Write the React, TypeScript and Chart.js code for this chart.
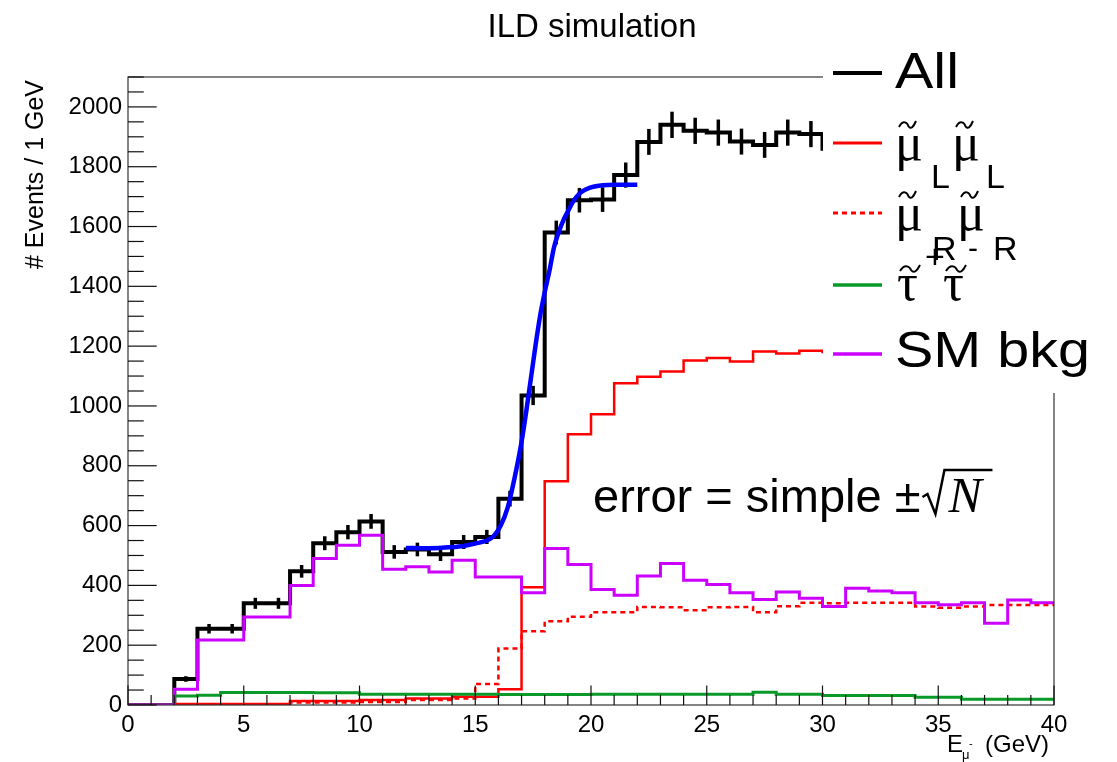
import React, { useEffect, useRef } from "react";
import { Chart, registerables } from "chart.js";

Chart.register(...registerables);

// ---- data ----
const binEdges = [
  0, 1, 2, 3, 4, 5, 6, 7, 8, 9, 10, 11, 12, 13, 14, 15, 16, 17, 18, 19, 20,
  21, 22, 23, 24, 25, 26, 27, 28, 29, 30, 31, 32, 33, 34, 35, 36, 37, 38, 39, 40,
];

const allEvents = [
  0, 0, 87, 255, 255, 340, 340, 447, 541, 578, 614, 512, 520, 504, 545, 562, 690,
  1035, 1580, 1688, 1690, 1772, 1883, 1940, 1920, 1914, 1884, 1873, 1914, 1909,
  1860, 1890, 1880, 1870, 1880, 1860, 1870, 1850, 1870, 1860,
];

const smuonL = [
  0, 0, 3, 3, 3, 3, 3, 13, 13, 13, 17, 17, 22, 22, 28, 28, 53, 394, 748, 905,
  972, 1076, 1098, 1115, 1152, 1160, 1149, 1182, 1175, 1185, 1180, 1185, 1190,
  1188, 1192, 1190, 1195, 1190, 1193, 1195,
];

const smuonR = [
  0, 0, 1, 1, 1, 1, 1, 8, 8, 8, 10, 10, 17, 17, 22, 70, 189, 247, 280, 295, 310,
  310, 328, 327, 317, 327, 328, 310, 330, 342, 340, 342, 342, 342, 329, 325, 329,
  334, 334, 334,
];

const stau = [
  0, 0, 30, 33, 42, 42, 42, 42, 41, 41, 36, 36, 36, 36, 36, 36, 35, 35, 35, 35,
  36, 36, 36, 36, 36, 36, 36, 43, 36, 36, 32, 32, 32, 32, 26, 26, 19, 19, 19, 19,
];

const smBkg = [
  0, 0, 53, 217, 217, 294, 294, 400, 490, 534, 568, 454, 462, 445, 484, 428, 428,
  375, 523, 470, 386, 367, 431, 473, 417, 403, 375, 353, 378, 357, 329, 390, 381,
  375, 342, 335, 342, 273, 351, 342,
];

const fitX = [
  12, 13, 14, 14.5, 15, 15.5, 15.8, 16.1, 16.4, 16.7, 17.0, 17.2, 17.4, 17.6,
  17.8, 18.0, 18.2, 18.4, 18.6, 18.8, 19.0, 19.2, 19.5, 19.8, 20.1, 20.5, 21, 22,
];
const fitY = [
  525, 524, 528, 532, 540, 550, 565, 600, 660, 760, 880, 980, 1090, 1200, 1300,
  1380, 1450, 1530, 1580, 1620, 1650, 1680, 1710, 1725, 1733, 1738, 1740, 1740,
];

const xTicks = [0, 5, 10, 15, 20, 25, 30, 35, 40];
const yTicks = [0, 200, 400, 600, 800, 1000, 1200, 1400, 1600, 1800, 2000];

const SANS = "'Liberation Sans', Arial, Helvetica, sans-serif";
const SERIF = "'Liberation Serif', 'Times New Roman', serif";

function histPoints(values: number[]) {
  const pts = values.map((v, i) => ({ x: binEdges[i], y: v }));
  pts.push({ x: binEdges[values.length], y: values[values.length - 1] });
  return pts;
}

function drawTilde(ctx: CanvasRenderingContext2D, x: number, y: number, w: number) {
  ctx.save();
  ctx.beginPath();
  ctx.lineWidth = 2;
  ctx.strokeStyle = "#000";
  ctx.moveTo(x, y + 3);
  ctx.bezierCurveTo(x + w * 0.25, y - 5, x + w * 0.5, y - 1, x + w * 0.55, y + 2);
  ctx.bezierCurveTo(x + w * 0.7, y + 6, x + w * 0.85, y + 3, x + w, y - 3);
  ctx.stroke();
  ctx.restore();
}

function txt(
  ctx: CanvasRenderingContext2D,
  s: string,
  x: number,
  y: number,
  font: string,
  sx = 1
) {
  ctx.save();
  ctx.font = font;
  ctx.fillStyle = "#000";
  ctx.textAlign = "left";
  ctx.textBaseline = "alphabetic";
  ctx.translate(x, y);
  ctx.scale(sx, 1);
  ctx.fillText(s, 0, 0);
  ctx.restore();
}

const decorPlugin = {
  id: "rootDecor",
  afterDatasetDraw(chart: any, args: any) {
    if (args.index !== 5) return;
    const ctx: CanvasRenderingContext2D = chart.ctx;
    const xs = chart.scales.x;
    const ys = chart.scales.y;
    const area = chart.chartArea;
    ctx.save();
    ctx.beginPath();
    ctx.rect(area.left, area.top, area.right - area.left, area.bottom - area.top);
    ctx.clip();
    ctx.strokeStyle = "#000";
    ctx.lineWidth = 3.5;
    allEvents.forEach((v, i) => {
      if (v <= 0) return;
      const e = Math.sqrt(v);
      const cx = xs.getPixelForValue((binEdges[i] + binEdges[i + 1]) / 2);
      ctx.beginPath();
      ctx.moveTo(cx, ys.getPixelForValue(v - e));
      ctx.lineTo(cx, ys.getPixelForValue(v + e));
      ctx.stroke();
    });
    ctx.restore();
  },
  afterDraw(chart: any) {
    const ctx: CanvasRenderingContext2D = chart.ctx;
    const xs = chart.scales.x;
    const ys = chart.scales.y;
    const a = chart.chartArea;
    const W = chart.width;

    // frame
    ctx.save();
    ctx.strokeStyle = "#333";
    ctx.lineWidth = 1.2;
    ctx.strokeRect(a.left, a.top, a.right - a.left, a.bottom - a.top);

    // ticks
    ctx.strokeStyle = "#111";
    ctx.lineWidth = 1.2;
    const plotW = a.right - a.left;
    const plotH = a.bottom - a.top;
    for (let v = 0; v <= 2100; v += 50) {
      const py = ys.getPixelForValue(v);
      const len = v % 200 === 0 ? 0.031 * plotW : 0.017 * plotW;
      ctx.beginPath();
      ctx.moveTo(a.left, py);
      ctx.lineTo(a.left + len, py);
      ctx.stroke();
    }
    for (let v = 0; v <= 40; v += 1) {
      const px = xs.getPixelForValue(v);
      const len = v % 5 === 0 ? 0.031 * plotH : 0.016 * plotH;
      ctx.beginPath();
      ctx.moveTo(px, a.bottom);
      ctx.lineTo(px, a.bottom - len);
      ctx.stroke();
    }
    ctx.restore();

    // legend box
    const lx = 823;
    ctx.save();
    ctx.fillStyle = "#fff";
    ctx.fillRect(lx, 38, W - lx, 393 - 38);
    const lineL = 833;
    const lineR = 882;
    const rows = [
      { y: 73, color: "#000", w: 4, dash: [] as number[] },
      { y: 143, color: "#ff0000", w: 3, dash: [] as number[] },
      { y: 213, color: "#ff0000", w: 3, dash: [5, 4] },
      { y: 285, color: "#0a9a2a", w: 3.5, dash: [] as number[] },
      { y: 354, color: "#cc00ff", w: 3.5, dash: [] as number[] },
    ];
    rows.forEach((r) => {
      ctx.beginPath();
      ctx.strokeStyle = r.color;
      ctx.lineWidth = r.w;
      ctx.setLineDash(r.dash);
      ctx.moveTo(lineL, r.y);
      ctx.lineTo(lineR, r.y);
      ctx.stroke();
    });
    ctx.setLineDash([]);
    ctx.restore();

    const big = `50px ${SANS}`;
    const greek = `52px ${SERIF}`;
    const sub = `34px ${SANS}`;
    txt(ctx, "All", 895, 88, big, 1.15);
    // row 2
    txt(ctx, "\u03bc", 895, 160, greek);
    drawTilde(ctx, 899, 124, 17);
    txt(ctx, "L", 931, 188, sub);
    txt(ctx, "\u03bc", 952, 160, greek);
    drawTilde(ctx, 956, 124, 17);
    txt(ctx, "L", 986, 188, sub);
    // row 3
    txt(ctx, "\u03bc", 895, 230, greek);
    drawTilde(ctx, 899, 194, 17);
    txt(ctx, "R", 932, 260, sub);
    txt(ctx, "\u03bc", 957, 230, greek);
    drawTilde(ctx, 961, 194, 17);
    txt(ctx, "R", 993, 260, sub);
    // row 4
    txt(ctx, "\u03c4", 897, 300, greek);
    drawTilde(ctx, 900, 268, 20);
    txt(ctx, "+", 925, 268, `34px ${SANS}`);
    txt(ctx, "\u03c4", 943, 300, greek);
    drawTilde(ctx, 946, 268, 20);
    txt(ctx, "-", 968, 258, `30px ${SANS}`);
    // row 5
    txt(ctx, "SM bkg", 895, 367, big, 1.15);

    // annotation
    ctx.save();
    ctx.font = `47px ${SANS}`;
    const s1 = "error = simple ";
    const w1 = ctx.measureText(s1).width;
    const wpm = ctx.measureText("\u00b1").width;
    ctx.restore();
    txt(ctx, s1, 593, 512, `47px ${SANS}`);
    const pmX = 593 + w1;
    txt(ctx, "\u00b1", pmX, 512, `47px ${SANS}`);
    const rx = pmX + wpm + 2;
    ctx.save();
    ctx.strokeStyle = "#000";
    ctx.lineWidth = 2.5;
    ctx.lineJoin = "miter";
    ctx.beginPath();
    ctx.moveTo(rx, 497);
    ctx.lineTo(rx + 5, 494);
    ctx.lineTo(rx + 13, 514);
    ctx.lineTo(rx + 22, 470);
    ctx.lineTo(rx + 70, 470);
    ctx.stroke();
    ctx.restore();
    txt(ctx, "N", rx + 26, 512, `italic 50px ${SERIF}`);

    // title
    ctx.save();
    ctx.font = `33px ${SANS}`;
    ctx.fillStyle = "#000";
    ctx.textAlign = "center";
    ctx.fillText("ILD simulation", 592, 37);
    ctx.restore();

    // y axis title
    ctx.save();
    ctx.font = `25px ${SANS}`;
    ctx.fillStyle = "#000";
    ctx.translate(43, 80);
    ctx.rotate(-Math.PI / 2);
    ctx.textAlign = "right";
    ctx.fillText("# Events / 1 GeV", 0, 0);
    ctx.restore();

    // x axis title
    txt(ctx, "E", 947, 752, `24px ${SANS}`);
    txt(ctx, "\u03bc", 962, 759, `13px ${SANS}`);
    txt(ctx, "-", 969, 747, `11px ${SANS}`);
    txt(ctx, "(GeV)", 985, 752, `24px ${SANS}`);
  },
};

export default function App() {
  const ref = useRef<HTMLCanvasElement | null>(null);

  useEffect(() => {
    if (!ref.current) return;
    const chart = new Chart(ref.current, {
      type: "line",
      data: {
        datasets: [
          {
            label: "fit",
            data: fitX.map((x, i) => ({ x, y: fitY[i] })),
            borderColor: "#0000ff",
            borderWidth: 4.5,
            pointRadius: 0,
            cubicInterpolationMode: "monotone",
            fill: false,
          },
          {
            label: "SM bkg",
            data: histPoints(smBkg),
            borderColor: "#cc00ff",
            borderWidth: 3,
            pointRadius: 0,
            stepped: true,
            fill: false,
          },
          {
            label: "stau",
            data: histPoints(stau),
            borderColor: "#0a9a2a",
            borderWidth: 3,
            pointRadius: 0,
            stepped: true,
            fill: false,
          },
          {
            label: "smuR",
            data: histPoints(smuonR),
            borderColor: "#ff0000",
            borderWidth: 2.5,
            borderDash: [5, 4],
            pointRadius: 0,
            stepped: true,
            fill: false,
          },
          {
            label: "smuL",
            data: histPoints(smuonL),
            borderColor: "#ff0000",
            borderWidth: 2.5,
            pointRadius: 0,
            stepped: true,
            fill: false,
          },
          {
            label: "All",
            data: histPoints(allEvents),
            borderColor: "#000000",
            borderWidth: 4,
            pointRadius: 0,
            stepped: true,
            fill: false,
          },
        ],
      },
      options: {
        animation: false,
        responsive: false,
        devicePixelRatio: 1,
        layout: { padding: { left: 0, right: 63, top: 77, bottom: 0 } },
        plugins: {
          legend: { display: false },
          tooltip: { enabled: false },
          title: { display: false },
        },
        scales: {
          x: {
            type: "linear",
            min: 0,
            max: 40,
            afterFit: (s: any) => {
              s.height = 57;
            },
            afterBuildTicks: (s: any) => {
              s.ticks = xTicks.map((v) => ({ value: v }));
            },
            grid: { display: false, drawTicks: false },
            border: { display: false },
            ticks: {
              padding: 6,
              color: "#000",
              font: { family: SANS, size: 24 },
              maxRotation: 0,
              autoSkip: false,
              callback: (v: any) => String(v),
            },
          },
          y: {
            type: "linear",
            min: 0,
            max: 2100,
            afterFit: (s: any) => {
              s.width = 128;
            },
            afterBuildTicks: (s: any) => {
              s.ticks = yTicks.map((v) => ({ value: v }));
            },
            grid: { display: false, drawTicks: false },
            border: { display: false },
            ticks: {
              padding: 6,
              color: "#000",
              font: { family: SANS, size: 24 },
              autoSkip: false,
              callback: (v: any) => String(v),
            },
          },
        },
      },
      plugins: [decorPlugin],
    } as any);
    return () => chart.destroy();
  }, []);

  return (
    <div style={{ position: "absolute", left: 0, top: 0, width: 1117, height: 762, background: "#fff" }}>
      <canvas ref={ref} width={1117} height={762} style={{ width: 1117, height: 762 }} />
    </div>
  );
}
